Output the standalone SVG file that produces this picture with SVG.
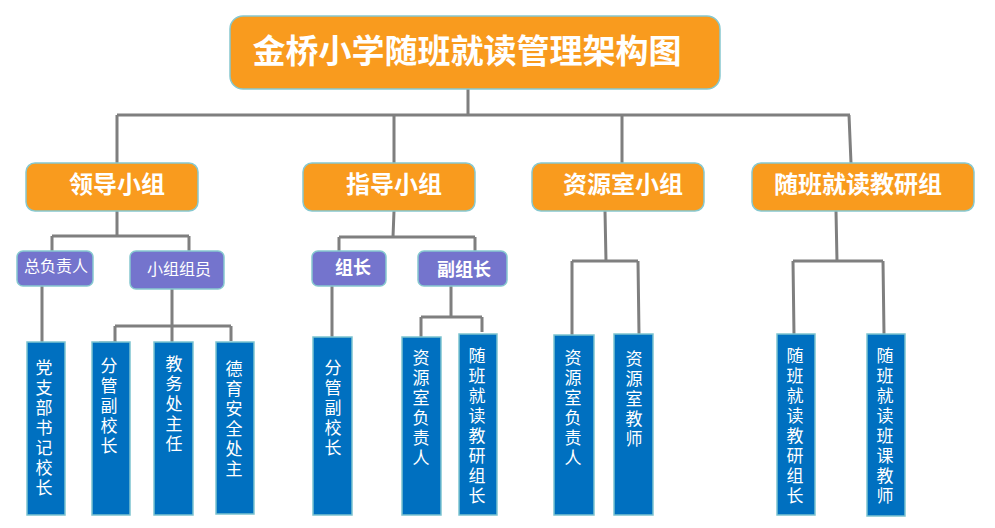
<svg xmlns="http://www.w3.org/2000/svg" width="995" height="528" viewBox="0 0 995 528">
<style>
.org{fill:#F99B1E;stroke:#86C8CF;stroke-width:1.5}
.pur{fill:#7474CD;stroke:#86C8CF;stroke-width:1.5}
.blu{fill:#0070C0;stroke:#7CC3D0;stroke-width:1.5}
.t{font-family:"Noto Sans CJK SC","Noto Sans CJK JP",sans-serif;fill:#FFFFFF;text-anchor:middle}
.t1{font-size:33px;font-weight:bold}
.t2{font-size:24px;font-weight:bold}
.t3{font-size:16px}
.t3b{font-size:18px;font-weight:bold}
.t4{font-size:17px}
.c{fill:none;stroke:#7F7F7F;stroke-width:3}
</style>
<rect width="995" height="528" fill="#FFFFFF"/>
<g id="connectors">
<path class="c" d="M468,89 V115 M117,115 H850 M117,115 V163 M394,115 V163 M622,115 V163 M849,115 L851,163"/>
<path class="c" d="M117,211 V236 M52,236 H189 M52,236 V253 M34,253 H53 M189,236 V252"/>
<path class="c" d="M394,211 L393,237 M339,237 H475 M339,237 V253 M321,253 H340 M475,237 V251"/>
<path class="c" d="M605,211 L606,261 M572,261 H638 M572,261 V335 M638,261 L639,334"/>
<path class="c" d="M836,211 L837,261 M793,261 H883 M793,261 L794,335 M883,261 L884,334"/>
<path class="c" d="M42,286 V342 M172,289 V342 M115,326 H231 M115,326 V343 M99,343 H117 M231,326 V341"/>
<path class="c" d="M332,286 V337 M451,286 V317 M421,317 H482 M421,317 V340 M412,340 H422 M482,317 V332"/>
</g>
<g id="title">
<rect class="org" x="230" y="16" width="490" height="73" rx="13"/>
<text class="t t1" x="467" y="63">金桥小学随班就读管理架构图</text>
</g>
<g id="lingdao">
<rect class="org" x="26" y="163" width="172" height="48" rx="9"/>
<text class="t t2" x="117" y="193">领导小组</text>
</g>
<g id="zhidao">
<rect class="org" x="303" y="163" width="172" height="48" rx="9"/>
<text class="t t2" x="394" y="193">指导小组</text>
</g>
<g id="ziyuanshi">
<rect class="org" x="532" y="163" width="172" height="48" rx="9"/>
<text class="t t2" x="623" y="193">资源室小组</text>
</g>
<g id="jiaoyan">
<rect class="org" x="752" y="163" width="222" height="48" rx="9"/>
<text class="t t2" x="858" y="193">随班就读教研组</text>
</g>
<g id="zongfuze">
<rect class="pur" x="17" y="251" width="76" height="35" rx="6"/>
<text class="t t3" x="56" y="272">总负责人</text>
</g>
<g id="zuyuan">
<rect class="pur" x="130" y="251" width="94" height="38" rx="6"/>
<text class="t t3" x="179" y="275">小组组员</text>
</g>
<g id="zuzhang">
<rect class="pur" x="312" y="251" width="74" height="35" rx="6"/>
<text class="t t3b" x="353" y="274">组长</text>
</g>
<g id="fuzuzhang">
<rect class="pur" x="418" y="251" width="89" height="35" rx="6"/>
<text class="t t3b" x="464" y="276">副组长</text>
</g>
<g id="n1">
<rect class="blu" x="27" y="342" width="38" height="173"/>
<text class="t t4" x="44" y="374"><tspan x="44">党</tspan><tspan x="44" dy="20">支</tspan><tspan x="44" dy="20">部</tspan><tspan x="44" dy="20">书</tspan><tspan x="44" dy="20">记</tspan><tspan x="44" dy="20">校</tspan><tspan x="44" dy="20">长</tspan></text>
</g>
<g id="n2">
<rect class="blu" x="92" y="342" width="38" height="173"/>
<text class="t t4" x="109" y="372"><tspan x="109">分</tspan><tspan x="109" dy="20">管</tspan><tspan x="109" dy="20">副</tspan><tspan x="109" dy="20">校</tspan><tspan x="109" dy="20">长</tspan></text>
</g>
<g id="n3">
<rect class="blu" x="154" y="342" width="39" height="173"/>
<text class="t t4" x="174" y="370"><tspan x="174">教</tspan><tspan x="174" dy="20">务</tspan><tspan x="174" dy="20">处</tspan><tspan x="174" dy="20">主</tspan><tspan x="174" dy="20">任</tspan></text>
</g>
<g id="n4">
<rect class="blu" x="216" y="342" width="38" height="172"/>
<text class="t t4" x="234" y="375"><tspan x="234">德</tspan><tspan x="234" dy="20">育</tspan><tspan x="234" dy="20">安</tspan><tspan x="234" dy="20">全</tspan><tspan x="234" dy="20">处</tspan><tspan x="234" dy="20">主</tspan></text>
</g>
<g id="n5">
<rect class="blu" x="313" y="337" width="39" height="178"/>
<text class="t t4" x="333" y="374"><tspan x="333">分</tspan><tspan x="333" dy="20">管</tspan><tspan x="333" dy="20">副</tspan><tspan x="333" dy="20">校</tspan><tspan x="333" dy="20">长</tspan></text>
</g>
<g id="n6">
<rect class="blu" x="402" y="337" width="39" height="178"/>
<text class="t t4" x="421" y="364"><tspan x="421">资</tspan><tspan x="421" dy="20">源</tspan><tspan x="421" dy="20">室</tspan><tspan x="421" dy="20">负</tspan><tspan x="421" dy="20">责</tspan><tspan x="421" dy="20">人</tspan></text>
</g>
<g id="n7">
<rect class="blu" x="459" y="334" width="38" height="181"/>
<text class="t t4" x="477" y="362"><tspan x="477">随</tspan><tspan x="477" dy="20">班</tspan><tspan x="477" dy="20">就</tspan><tspan x="477" dy="20">读</tspan><tspan x="477" dy="20">教</tspan><tspan x="477" dy="20">研</tspan><tspan x="477" dy="20">组</tspan><tspan x="477" dy="20">长</tspan></text>
</g>
<g id="n8">
<rect class="blu" x="554" y="335" width="40" height="180"/>
<text class="t t4" x="573" y="364"><tspan x="573">资</tspan><tspan x="573" dy="20">源</tspan><tspan x="573" dy="20">室</tspan><tspan x="573" dy="20">负</tspan><tspan x="573" dy="20">责</tspan><tspan x="573" dy="20">人</tspan></text>
</g>
<g id="n9">
<rect class="blu" x="614" y="334" width="39" height="181"/>
<text class="t t4" x="634" y="365"><tspan x="634">资</tspan><tspan x="634" dy="20">源</tspan><tspan x="634" dy="20">室</tspan><tspan x="634" dy="20">教</tspan><tspan x="634" dy="20">师</tspan></text>
</g>
<g id="n10">
<rect class="blu" x="777" y="334" width="38" height="181"/>
<text class="t t4" x="795" y="362"><tspan x="795">随</tspan><tspan x="795" dy="20">班</tspan><tspan x="795" dy="20">就</tspan><tspan x="795" dy="20">读</tspan><tspan x="795" dy="20">教</tspan><tspan x="795" dy="20">研</tspan><tspan x="795" dy="20">组</tspan><tspan x="795" dy="20">长</tspan></text>
</g>
<g id="n11">
<rect class="blu" x="867" y="334" width="38" height="182"/>
<text class="t t4" x="885" y="362"><tspan x="885">随</tspan><tspan x="885" dy="20">班</tspan><tspan x="885" dy="20">就</tspan><tspan x="885" dy="20">读</tspan><tspan x="885" dy="20">班</tspan><tspan x="885" dy="20">课</tspan><tspan x="885" dy="20">教</tspan><tspan x="885" dy="20">师</tspan></text>
</g>
</svg>
